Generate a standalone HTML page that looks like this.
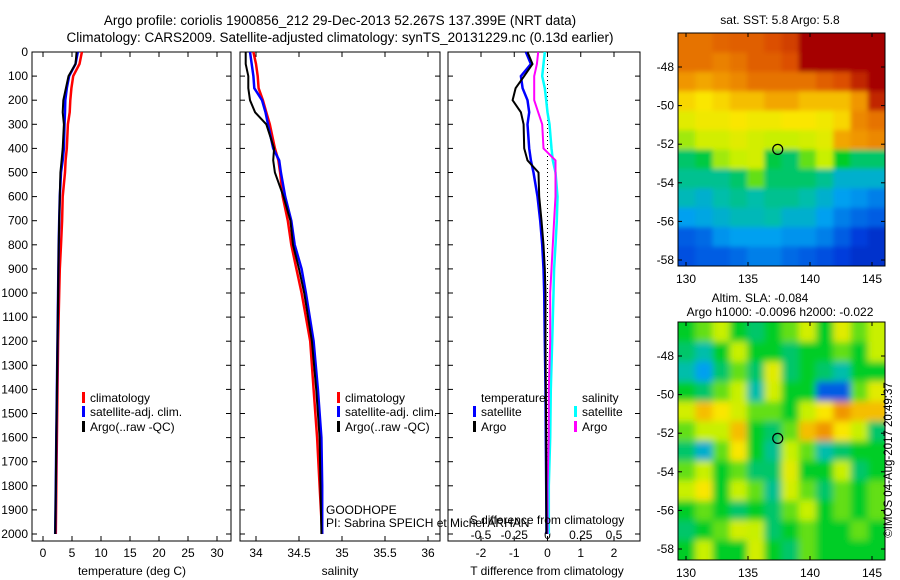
<!DOCTYPE html>
<html><head><meta charset="utf-8"><style>
body{margin:0;background:#fff;}
svg{display:block;font-family:"Liberation Sans",sans-serif;}
text{fill:#000;}
</style></head><body>
<svg id="fig" width="900" height="580" viewBox="0 0 900 580">
<defs>
<filter id="blurS" x="-5%" y="-5%" width="110%" height="110%"><feGaussianBlur stdDeviation="2.5"/></filter>
<filter id="blurL" x="-5%" y="-5%" width="110%" height="110%"><feGaussianBlur stdDeviation="3.5"/></filter>
<clipPath id="clipTop"><rect x="678" y="33" width="207" height="233"/></clipPath>
<clipPath id="clipBot"><rect x="678" y="322" width="207" height="238"/></clipPath>
</defs>
<text x="340" y="25" font-size="13.5" text-anchor="middle">Argo profile: coriolis 1900856_212 29-Dec-2013 52.267S 137.399E (NRT data)</text>
<text x="340" y="42" font-size="13.5" text-anchor="middle">Climatology: CARS2009. Satellite-adjusted climatology: synTS_20131229.nc (0.13d earlier)</text>
</svg>
<script>
const depths=[0,50,100,150,200,250,300,400,450,500,600,700,800,900,1000,1200,1400,1600,1800,2000];
const tClim=[6.7,6.3,5.2,4.9,4.7,4.6,4.3,4.1,3.9,3.8,3.4,3.3,3.1,2.9,2.8,2.6,2.5,2.4,2.3,2.2];
const tSat=[6.0,5.6,4.5,4.1,3.85,3.8,3.7,3.6,3.4,3.1,2.9,2.8,2.7,2.65,2.6,2.5,2.4,2.3,2.2,2.1];
const tArgo=[5.8,5.6,4.4,3.95,3.5,3.4,3.6,3.4,3.2,3.0,2.9,2.8,2.7,2.65,2.6,2.5,2.4,2.3,2.2,2.1];
const sClim=[33.97,34.0,34.02,34.03,34.08,34.12,34.16,34.22,34.26,34.28,34.31,34.37,34.41,34.47,34.53,34.63,34.67,34.71,34.74,34.77];
const sSat=[33.93,33.95,33.97,33.98,34.07,34.11,34.14,34.2,34.27,34.29,34.34,34.41,34.45,34.53,34.58,34.67,34.72,34.76,34.77,34.77];
const sArgo=[33.88,33.88,33.91,33.91,33.93,33.99,34.12,34.21,34.2,34.22,34.32,34.40,34.43,34.5,34.56,34.65,34.70,34.74,34.75,34.76];
const dTSat=[-0.65,-0.5,-0.8,-0.75,-0.6,-0.55,-0.6,-0.55,-0.5,-0.42,-0.3,-0.22,-0.16,-0.12,-0.1,-0.08,-0.06,-0.05,-0.04,-0.03];
const dTArgo=[-0.6,-0.45,-0.7,-0.96,-1.05,-0.8,-0.72,-0.7,-0.6,-0.27,-0.25,-0.18,-0.12,-0.08,-0.06,-0.06,-0.05,-0.04,-0.04,-0.03];
const dSSat=[-0.02,-0.03,-0.04,-0.02,-0.01,0.0,0.015,0.03,0.04,0.06,0.075,0.07,0.06,0.05,0.045,0.035,0.025,0.02,0.01,0.01];
const dSArgo=[-0.07,-0.08,-0.1,-0.1,-0.1,-0.07,-0.04,-0.03,0.06,0.06,0.06,0.05,0.04,0.03,0.02,0.02,0.01,0.01,0.0,0.0];
const depthTicks=[0,100,200,300,400,500,600,700,800,900,1000,1100,1200,1300,1400,1500,1600,1700,1800,1900,2000];
const tTicks=[0,5,10,15,20,25,30];
const sTicks=[34,34.5,35,35.5,36];
const dTTicks=[-2,-1,0,1,2];
const dSTicks=[-0.5,-0.25,0,0.25,0.5];
const sstGrid=[
[.85,.85,.87,.88,.88,.9,.92,1,1,1,1,1],
[.85,.85,.83,.85,.88,.88,.9,1,1,1,1,1],
[.8,.78,.8,.82,.85,.85,.85,.85,.88,.9,.95,1],
[.72,.7,.72,.75,.75,.78,.78,.75,.75,.75,.8,.95],
[.65,.68,.68,.7,.68,.68,.7,.7,.68,.72,.82,.85],
[.58,.62,.62,.65,.62,.6,.6,.62,.65,.78,.8,.82],
[.45,.48,.58,.6,.62,.48,.45,.55,.6,.5,.45,.45],
[.42,.42,.42,.45,.55,.45,.45,.45,.42,.35,.35,.35],
[.38,.35,.4,.42,.4,.42,.42,.4,.35,.3,.28,.25],
[.3,.32,.35,.38,.38,.4,.35,.35,.3,.25,.22,.2],
[.2,.22,.28,.3,.3,.3,.28,.28,.25,.2,.15,.12],
[.18,.2,.2,.22,.25,.25,.22,.2,.18,.15,.12,.12]];
const slaGrid=[
[.5,.55,.6,.5,.45,.5,.55,.62,.5,.65,.55,.6],
[.45,.4,.5,.6,.5,.5,.45,.5,.5,.55,.5,.6],
[.4,.3,.45,.55,.45,.65,.45,.5,.45,.4,.5,.5],
[.5,.45,.55,.6,.4,.62,.5,.5,.2,.2,.55,.65],
[.62,.75,.7,.62,.55,.55,.5,.6,.7,.8,.75,.75],
[.55,.6,.6,.75,.5,.45,.55,.75,.8,.7,.6,.45],
[.45,.35,.55,.7,.5,.42,.6,.55,.4,.45,.5,.5],
[.55,.6,.5,.55,.45,.45,.65,.5,.5,.6,.45,.5],
[.6,.7,.5,.6,.55,.42,.62,.55,.45,.55,.5,.55],
[.5,.55,.5,.45,.5,.45,.55,.6,.5,.55,.5,.55],
[.45,.5,.55,.62,.6,.45,.5,.55,.5,.5,.55,.5],
[.5,.6,.5,.5,.62,.5,.45,.55,.5,.5,.5,.5]];
const latTicks=[-48,-50,-52,-54,-56,-58];
const lonTicks=[130,135,140,145];
const argoLon=137.399, argoLat=-52.267;

const svg=document.getElementById('fig');
const NS='http://www.w3.org/2000/svg';
function mk(tag,attrs,parent){const e=document.createElementNS(NS,tag);for(const k in attrs)e.setAttribute(k,attrs[k]);(parent||svg).appendChild(e);return e;}
function txt(x,y,s,size,anchor){const t=mk('text',{x:x,y:y,'font-size':size||12,'text-anchor':anchor||'middle'});t.textContent=s;return t;}
const yD=d=>52+d*0.241;
const PB=541;
function linearX(d0,d1,p0,p1){return v=>p0+(v-d0)*(p1-p0)/(d1-d0);}
function frame(x0,x1,name){const r=mk('rect',{x:x0,y:52,width:x1-x0,height:PB-52,fill:'none',stroke:'#000','stroke-width':1});
 depthTicks.forEach(d=>{const y=yD(d);mk('line',{x1:x0,y1:y,x2:x0+5,y2:y,stroke:'#000'});mk('line',{x1:x1,y1:y,x2:x1-5,y2:y,stroke:'#000'});});}
function xticks(sc,ticks,labY){ticks.forEach(v=>{const x=sc(v);mk('line',{x1:x,y1:52,x2:x,y2:57,stroke:'#000'});mk('line',{x1:x,y1:PB,x2:x,y2:PB-5,stroke:'#000'});if(labY){const t=txt(x,labY,String(v),12);}});}
function line(sc,vals,col,name,w){let d='';vals.forEach((v,i)=>{d+=(i?'L':'M')+sc(v).toFixed(1)+','+yD(depths[i]).toFixed(1);});const p=mk('path',{d:d,fill:'none',stroke:col,'stroke-width':w||2.5});}
depthTicks.forEach(d=>{const t=txt(28,yD(d)+4,String(d),12,'end');});
// panel 1
const xT=linearX(0,30,43,217);
frame(32,231,'temperature-axes');xticks(xT,tTicks,557);
line(xT,tClim,'#f00','temp-climatology-line');line(xT,tSat,'#00f','temp-satellite-line');line(xT,tArgo,'#000','temp-argo-line',2);
let t=txt(132,575,'temperature (deg C)',12);
function legend(x,y,col,label,name){mk('rect',{x:x,y:y-10,width:3,height:11,fill:col});const tt=txt(x+8,y,label,12,'start');}
legend(82,402,'#f00','climatology','legend-climatology');legend(82,416,'#00f','satellite-adj. clim.','legend-satellite');legend(82,431,'#000','Argo(..raw -QC)','legend-argo');
// panel 2
const xS=linearX(34,36,256,428);
frame(240,440,'salinity-axes');xticks(xS,sTicks,557);
line(xS,sClim,'#f00','sal-climatology-line');line(xS,sSat,'#00f','sal-satellite-line');line(xS,sArgo,'#000','sal-argo-line',2);
t=txt(340,575,'salinity',12);
legend(337,402,'#f00','climatology','legend2-climatology');legend(337,416,'#00f','satellite-adj. clim.','legend2-satellite');legend(337,431,'#000','Argo(..raw -QC)','legend2-argo');
t=txt(326,514,'GOODHOPE',12,'start');
t=txt(326,527,'PI: Sabrina SPEICH et Michel ARHAN',12,'start');
// panel 3
const xdT=linearX(-2,2,481,614);
const xdS=linearX(-0.5,0.5,481,614);
frame(448,640,'difference-axes');xticks(xdT,dTTicks,557);
dSTicks.forEach(v=>{const tt=txt(xdS(v),539,String(v),12);});
mk('line',{x1:xdT(0),y1:52,x2:xdT(0),y2:PB,stroke:'#000','stroke-dasharray':'1,3'});
line(xdS,dSSat,'#0ff','sdiff-satellite-line');line(xdS,dSArgo,'#f0f','sdiff-argo-line',2);
line(xdT,dTSat,'#00f','tdiff-satellite-line');line(xdT,dTArgo,'#000','tdiff-argo-line',2);
t=txt(547,524,'S difference from climatology',12);
t=txt(547,575,'T difference from climatology',12);
t=txt(481,402,'temperature',12,'start');
t=txt(582,402,'salinity',12,'start');
legend(473,416,'#00f','satellite','legend3-t-satellite');legend(473,431,'#000','Argo','legend3-t-argo');
legend(574,416,'#0ff','satellite','legend3-s-satellite');legend(574,431,'#f0f','Argo','legend3-s-argo');
// maps
const cmStops=[[0,[0,0,140]],[0.15,[0,60,220]],[0.3,[0,160,240]],[0.4,[0,190,170]],[0.5,[0,205,40]],[0.6,[200,240,0]],[0.7,[250,230,0]],[0.8,[240,150,0]],[0.9,[220,80,0]],[1,[165,0,0]]];
function cmap(v){v=Math.max(0,Math.min(1,v));for(let i=1;i<cmStops.length;i++){if(v<=cmStops[i][0]){const a=cmStops[i-1],b=cmStops[i],f=(v-a[0])/(b[0]-a[0]);return 'rgb('+a[1].map((c,k)=>Math.round(c+(b[1][k]-c)*f)).join(',')+')';}}return 'rgb(165,0,0)';}
function map(top,h,grid,name,clip,blur){const L=678,R=885,B=top+h;const lonX=linearX(130,145,686,872);const latY=linearX(-48,-58,top+34,top+227);
 const cg=mk('g',{'clip-path':'url(#'+clip+')'});
 const g=mk('g',{filter:'url(#'+blur+')'},cg);
 const rows=grid.length,cols=grid[0].length,cw=(R-L)/cols,ch=(B-top)/rows;
 grid.forEach((row,i)=>row.forEach((v,j)=>{let x=L+j*cw,y=top+i*ch,w=cw+0.6,hh=ch+0.6;if(j===0){x-=12;w+=12;}if(j===cols-1)w+=12;if(i===0){y-=12;hh+=12;}if(i===rows-1)hh+=12;mk('rect',{x:x,y:y,width:w,height:hh,fill:cmap(v)},g);}));
 mk('rect',{x:L,y:top,width:R-L,height:h,fill:'none',stroke:'#000'});
 latTicks.forEach(la=>{const y=latY(la);mk('line',{x1:L,y1:y,x2:L+4,y2:y,stroke:'#000'});mk('line',{x1:R,y1:y,x2:R-4,y2:y,stroke:'#000'});const tt=txt(674,y+4,String(la),12,'end');});
 lonTicks.forEach(lo=>{const x=lonX(lo);mk('line',{x1:x,y1:B,x2:x,y2:B-4,stroke:'#000'});mk('line',{x1:x,y1:top,x2:x,y2:top+4,stroke:'#000'});const tt=txt(x,B+17,String(lo),12);});
 const c=mk('circle',{cx:lonX(argoLon),cy:latY(argoLat),r:5,fill:'none',stroke:'#000','stroke-width':1.2});}
map(33,233,sstGrid,'sst-map','clipTop','blurS');
t=txt(780,24,'sat. SST: 5.8 Argo: 5.8',12);
map(322,238,slaGrid,'sla-map','clipBot','blurL');
t=txt(760,302,'Altim. SLA: -0.084',12);
t=txt(780,316,'Argo h1000: -0.0096 h2000: -0.022',12);
t=mk('text',{x:0,y:0,'font-size':11.5,'text-anchor':'middle',transform:'translate(892,460) rotate(-90)'});t.textContent='©IMOS 04-Aug-2017 20:49:37';


</script>
</body></html>
